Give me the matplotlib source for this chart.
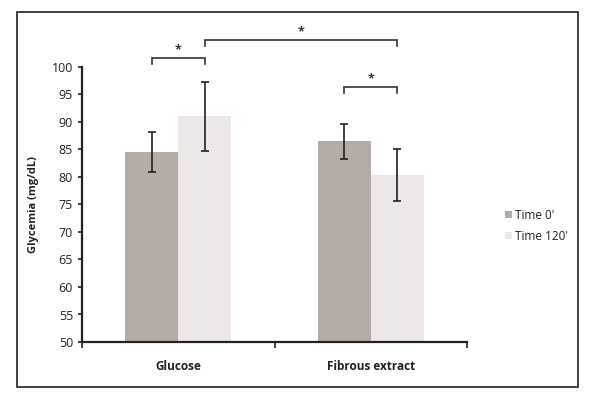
import matplotlib
matplotlib.use("Agg")
import matplotlib.pyplot as plt
import numpy as np
from matplotlib.patches import Rectangle

plt.rcParams['font.family'] = ['Open Sans', 'DejaVu Sans']

categories = ["Glucose", "Fibrous extract"]
series = ["Time 0'", "Time 120'"]
time0 = [84.5, 86.5]
time0_err = [3.6, 3.2]
time120 = [91.0, 80.3]
time120_err = [6.3, 4.7]
yticks = [50, 55, 60, 65, 70, 75, 80, 85, 90, 95, 100]

c0 = "#b5aca8"
c1 = "#ede7e7"

fig = plt.figure(figsize=(5.89, 3.98), dpi=100)
fig.patch.set_facecolor("white")
fig.add_artist(Rectangle((17/589, 1-387/398), (578-17)/589, (387-12)/398,
                         transform=fig.transFigure, fill=False,
                         edgecolor="#333333", linewidth=1.3))

ax = fig.add_axes([82/589, 1-342/398, (467-82)/589, (342-67)/398])
x = np.arange(len(categories))
w = 0.275
ekw = dict(ecolor="#222222", elinewidth=1.2, capsize=3, capthick=1.2)
ax.bar(x - w/2, [v - 50 for v in time0], w, bottom=50, color=c0, label=series[0])
ax.bar(x + w/2, [v - 50 for v in time120], w, bottom=50, color=c1, label=series[1])
ax.errorbar(x - w/2, time0, yerr=time0_err, fmt="none", **ekw)
ax.errorbar(x + w/2, time120, yerr=time120_err, fmt="none", **ekw)

ax.set_xlim(-0.5, 1.5)
ax.set_ylim(50, 100)
ax.set_yticks(yticks)
ax.set_yticklabels([str(t) for t in yticks], fontsize=9, color="#222222")
ax.set_xticks([-0.5, 0.5, 1.5])
ax.set_xticklabels([])
ax.tick_params(axis="x", direction="out", length=4, width=1.2, color="#222222")
ax.tick_params(axis="y", direction="out", length=3, width=1.2, color="#222222")
for i, c in enumerate(categories):
    ax.text(x[i], -0.065, c, transform=ax.get_xaxis_transform(), ha="center", va="top",
            fontsize=8.5, fontweight="bold", color="#222222")
for s in ["top", "right"]:
    ax.spines[s].set_visible(False)
for s in ["left", "bottom"]:
    ax.spines[s].set_linewidth(1.6)
    ax.spines[s].set_color("#222222")

ax.set_ylabel("Glycemia (mg/dL)", fontsize=8, fontweight="bold", color="#222222", labelpad=9)

def bracket(x1, x2, y, drop=1.1):
    ax.plot([x1, x1, x2, x2], [y - drop, y, y, y - drop], color="#333333", lw=1.2,
            clip_on=False, solid_joinstyle="miter")
    ax.text((x1 + x2) / 2, y + 0.3, "*", ha="center", va="bottom", fontsize=9,
            fontweight="bold", color="#333333", clip_on=False)

bracket(x[0] - w/2, x[0] + w/2, 101.6)
bracket(x[0] + w/2, x[1] + w/2, 104.9)
bracket(x[1] - w/2, x[1] + w/2, 96.4)

leg = fig.legend(loc="upper left", bbox_to_anchor=(494/589, 1-198/398), frameon=False,
                 fontsize=8.5, handlelength=0.6, handleheight=0.6, handletextpad=0.3,
                 labelspacing=0.7)
for t in leg.get_texts():
    t.set_color("#222222")

fig.savefig("out.png", dpi=100, facecolor="white")
